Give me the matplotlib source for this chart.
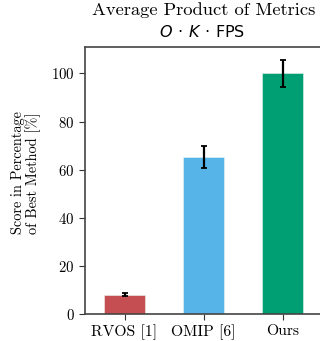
import numpy as np
import matplotlib
matplotlib.use('Agg')
import matplotlib.pyplot as plt

# Values
methods = ['RVOS [1]', 'OMIP [6]', 'Ours']
scores = [8.1, 65.3, 100.0]
errors = [0.7, 4.6, 5.7]
colors = ['#C44E52', '#56B4E9', '#009E73']

plt.rcParams['font.family'] = 'cmr10'
plt.rcParams['mathtext.fontset'] = 'cm'
plt.rcParams['axes.formatter.use_mathtext'] = True

fig = plt.figure(figsize=(3.2, 3.41), dpi=100)
ax = fig.add_axes([85 / 320, 1 - 314 / 341, 237 / 320, 267 / 341])

x = np.arange(len(methods))
ax.bar(x, scores, width=0.52, color=colors, edgecolor='#e8f4f0', linewidth=0.4,
       yerr=errors, capsize=2.4, error_kw=dict(elinewidth=1.6, capthick=1.3, ecolor='black'))

ax.set_xlim(-0.5, 2.5)
ax.set_ylim(0, 111)
ax.set_xticks(x)
ax.set_xticklabels(methods, fontsize=11.3)
ax.set_yticks([0, 20, 40, 60, 80, 100])
ax.tick_params(axis='y', labelsize=10.7, length=4, width=0.8, color='#333333')
ax.tick_params(axis='x', length=4, width=0.8, color='#333333')

for side in ['left', 'top', 'bottom']:
    ax.spines[side].set_color('#444444')
    ax.spines[side].set_linewidth(1.2)
ax.spines['right'].set_visible(False)

ax.set_ylabel('Score in Percentage\nof Best Method [%]', fontsize=10.3, linespacing=1.0)
ax.yaxis.set_label_coords(-0.186, 0.528)

fig.text(0.636, 0.993, 'Average Product of Metrics', ha='center', va='top', fontsize=13.3)
fig.text(0.631, 0.930, r'$O\,\cdot\,K\,\cdot\,\mathrm{FPS}$', ha='center', va='top',
         fontsize=11.5, math_fontfamily='dejavusans')

fig.savefig('out.png', dpi=100)
